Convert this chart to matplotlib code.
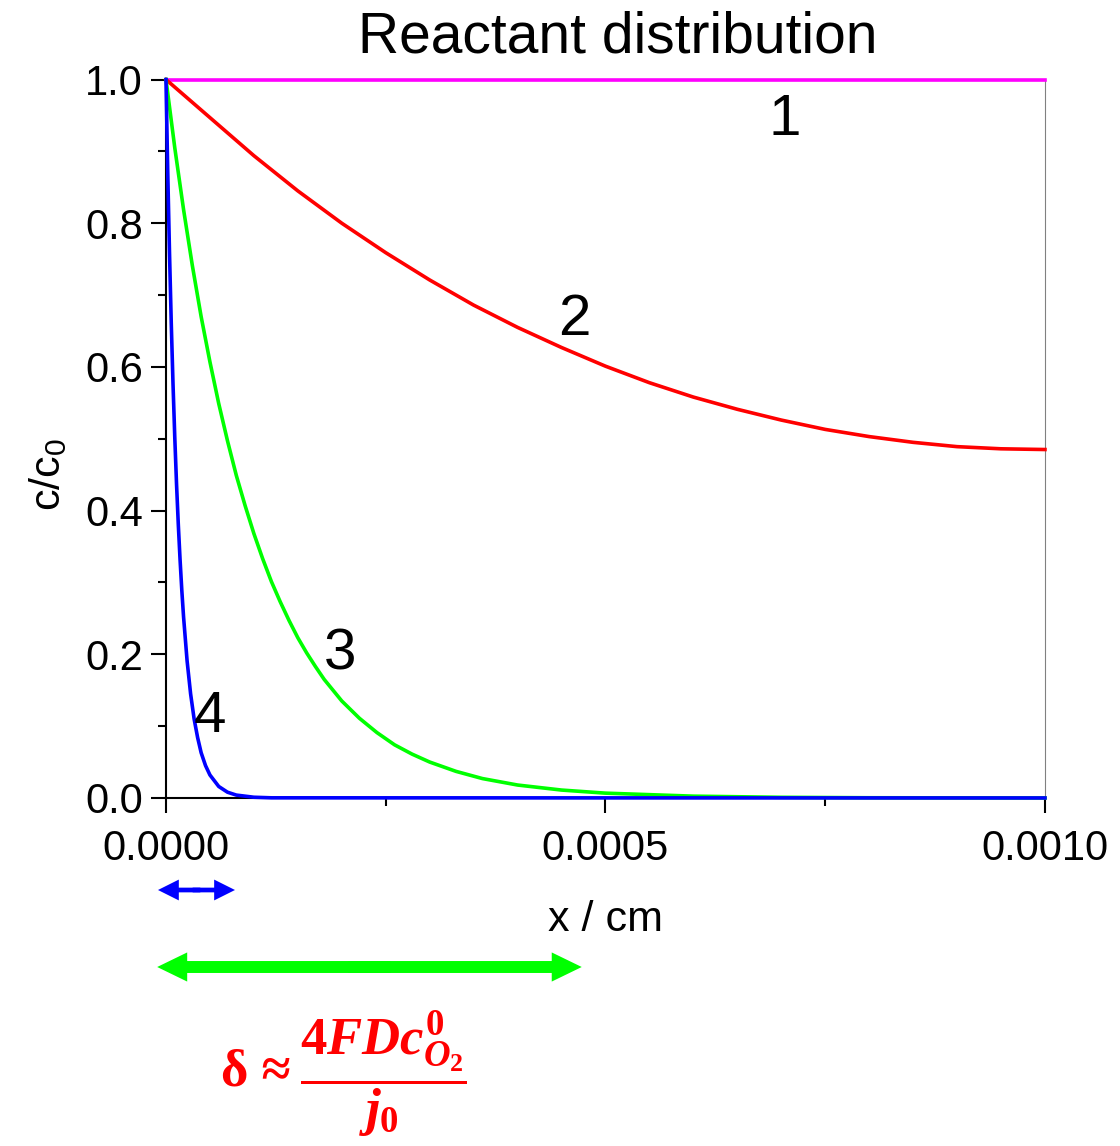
import numpy as np
import matplotlib
matplotlib.use("Agg")
from matplotlib import pyplot as plt
from matplotlib.patches import FancyArrowPatch
from matplotlib.ticker import MultipleLocator, FormatStrFormatter
import matplotlib.transforms as mtransforms

plt.rcParams['font.family'] = ['Liberation Sans', 'DejaVu Sans']
plt.rcParams['mathtext.fontset'] = 'custom'
plt.rcParams['mathtext.rm'] = 'Liberation Serif:bold'
plt.rcParams['mathtext.it'] = 'Liberation Serif:bold:italic'
plt.rcParams['mathtext.bf'] = 'Liberation Serif:bold'
plt.rcParams['mathtext.sf'] = 'Liberation Sans'

# curve 1: no depletion
x1 = [0.0, 0.001]
y1 = [1.0, 1.0]

# curve 2 (red)
x2 = [0.0, 0.00005, 0.0001, 0.00015, 0.0002, 0.00025, 0.0003, 0.00035, 0.0004,
      0.00045, 0.0005, 0.00055, 0.0006, 0.00065, 0.0007, 0.00075, 0.0008,
      0.00085, 0.0009, 0.00095, 0.001]
y2 = [1.0, 0.947, 0.894, 0.845, 0.800, 0.759, 0.721, 0.686, 0.655,
      0.627, 0.601, 0.578, 0.558, 0.541, 0.526, 0.513, 0.503,
      0.495, 0.489, 0.486, 0.485]

# curve 3 (green)
x3 = [0.0, 0.00001, 0.00002, 0.00003, 0.00004, 0.00005, 0.00006, 0.00007, 0.00008,
      0.00009, 0.0001, 0.00011, 0.00012, 0.00013, 0.00014, 0.00015, 0.00016,
      0.00017, 0.00018, 0.00019, 0.0002, 0.00022, 0.00024, 0.00026, 0.00028,
      0.0003, 0.00033, 0.00036, 0.0004, 0.00045, 0.0005, 0.0006, 0.0007,
      0.0008, 0.001]
y3 = [1.0, 0.905, 0.819, 0.741, 0.670, 0.607, 0.549, 0.497, 0.449,
      0.407, 0.368, 0.333, 0.301, 0.273, 0.247, 0.223, 0.202,
      0.183, 0.165, 0.150, 0.135, 0.111, 0.091, 0.074, 0.061,
      0.050, 0.037, 0.027, 0.018, 0.011, 0.0067, 0.0025, 0.0009,
      0.0003, 0.0]

# curve 4 (blue)
x4 = [0.0, 0.000002, 0.000004, 0.000006, 0.000008, 0.00001, 0.000012, 0.000014,
      0.000016, 0.000018, 0.00002, 0.000024, 0.000028, 0.000032, 0.000036,
      0.00004, 0.000045, 0.00005, 0.00006, 0.00007, 0.00008, 0.0001, 0.00012,
      0.001]
y4 = [1.0, 0.871, 0.759, 0.661, 0.576, 0.502, 0.437, 0.381,
      0.332, 0.289, 0.252, 0.191, 0.145, 0.110, 0.084,
      0.063, 0.045, 0.032, 0.016, 0.008, 0.004, 0.001, 0.0002,
      0.0]

curve_labels = ['1', '2', '3', '4']
label_x = [0.000704, 0.000465, 0.000198, 0.000050]
label_y = [0.944, 0.665, 0.199, 0.113]

fig = plt.figure(figsize=(11.2, 11.46), dpi=100)
ax = fig.add_axes([0.1482, 0.3037, 0.7848, 0.6269])

ax.plot(x1, y1, color='#ff00ff', lw=2.6, clip_on=False, zorder=3)
ax.plot(x2, y2, color='#ff0000', lw=2.6, clip_on=False, zorder=3)
ax.plot(x3, y3, color='#00ff00', lw=2.6, clip_on=False, zorder=3)
ax.plot(x4, y4, color='#0000ff', lw=2.6, clip_on=False, zorder=3)

for t, lx, ly in zip(curve_labels, label_x, label_y):
    ax.text(lx, ly, t, fontsize=42, ha='center', va='center')

ax.set_xlim(0, 0.001)
ax.set_ylim(0, 1.0)
ax.xaxis.set_major_locator(MultipleLocator(0.0005))
ax.xaxis.set_minor_locator(MultipleLocator(0.00025))
ax.yaxis.set_major_locator(MultipleLocator(0.2))
ax.yaxis.set_minor_locator(MultipleLocator(0.1))
ax.xaxis.set_major_formatter(FormatStrFormatter('%.4f'))
ax.yaxis.set_major_formatter(FormatStrFormatter('%.1f'))

ax.tick_params(which='major', direction='out', length=10.5, width=1.5,
               labelsize=30, top=False, right=False)
ax.tick_params(which='minor', direction='out', length=6, width=1.5,
               top=False, right=False)
ax.tick_params(axis='x', which='major', pad=12)
ax.tick_params(axis='y', which='major', pad=6)

for s in ['left', 'bottom']:
    ax.spines[s].set_linewidth(1.5)
for s in ['top', 'right']:
    ax.spines[s].set_linewidth(0.8)
    ax.spines[s].set_color('#808080')

ax.set_xlabel('x / cm', fontsize=31, labelpad=22)
ax.set_ylabel(r'$\mathsf{c/c_0}$', fontsize=31)
ax.yaxis.set_label_coords(-0.11, 0.45)

fig.text(0.552, 0.954, 'Reactant distribution', fontsize=41,
         ha='center', va='baseline')

# penetration depth arrows
trans = mtransforms.blended_transform_factory(ax.transData, fig.transFigure)

def double_arrow(x0, x1, y, color, hl, hw, tw):
    style = 'simple,head_length={},head_width={},tail_width={}'.format(hl, hw, tw)
    xm = 0.5 * (x0 + x1)
    ov = 0.05 * (x1 - x0)
    for xs, xe in ((xm + ov, x0), (xm - ov, x1)):
        a = FancyArrowPatch((xs, y), (xe, y), transform=trans, arrowstyle=style,
                            mutation_scale=1, color=color, lw=0,
                            shrinkA=0, shrinkB=0, clip_on=False)
        ax.add_patch(a)

double_arrow(-0.0000091, 0.0000785, 1 - 890 / 1146, '#0000ff', 15, 15, 3.4)
double_arrow(-0.0000100, 0.000473, 1 - 967 / 1146, '#00ff00', 21.6, 21, 8.6)

fig.text(0.197, 0.0640, '\u03b4 \u2248', fontsize=38, color='#ff0000',
         family=['Liberation Serif', 'DejaVu Serif'], fontweight='bold',
         ha='left', va='center')
fig.text(0.268, 0.0630, r'$\dfrac{4FDc^{0}_{O_2}}{j_0}$', fontsize=38,
         color='#ff0000', ha='left', va='center')

fig.savefig('out.png', dpi=100)
